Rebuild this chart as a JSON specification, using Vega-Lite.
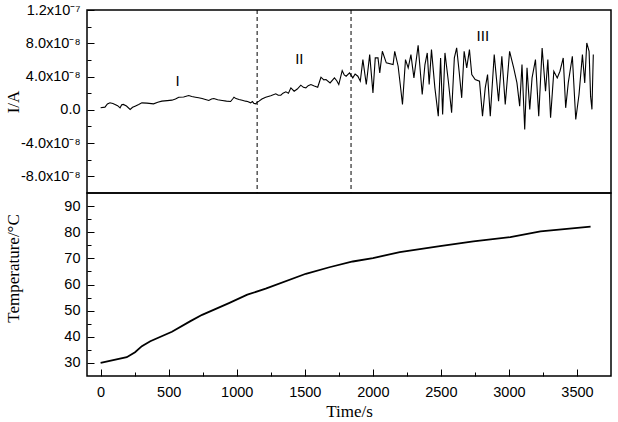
{
  "$schema": "https://vega.github.io/schema/vega-lite/v6.json",
  "padding": {"left": 3, "top": 1, "right": 6, "bottom": 2},
  "spacing": 0,
  "bounds": "flush",
  "background": "white",
  "config": {
    "view": {"stroke": "black", "strokeWidth": 1.5},
    "axis": {
      "domain": false, "grid": false,
      "labelFont": "Liberation Sans", "labelFontSize": 14.5, "labelColor": "black",
      "tickColor": "black", "tickWidth": 1,
      "titleFont": "Liberation Serif", "titleFontWeight": "normal", "titleFontSize": 17, "titleColor": "black"
    }
  },
  "datasets": {
    "current": [
      {"t": 0, "I": 2.4e-9}, {"t": 32, "I": 3.2e-9}, {"t": 50, "I": 7.0e-9}, {"t": 69, "I": 8.4e-9},
      {"t": 90, "I": 7.5e-9}, {"t": 106, "I": 6.5e-9}, {"t": 125, "I": 5.0e-9}, {"t": 143, "I": 2.4e-9},
      {"t": 155, "I": 6.0e-9}, {"t": 167, "I": 6.5e-9}, {"t": 190, "I": 4.5e-9}, {"t": 217, "I": 0.5e-9},
      {"t": 235, "I": 3.0e-9}, {"t": 253, "I": 4.4e-9}, {"t": 280, "I": 6.5e-9}, {"t": 303, "I": 8.4e-9},
      {"t": 340, "I": 8.0e-9}, {"t": 389, "I": 7.2e-9}, {"t": 420, "I": 9.0e-9}, {"t": 450, "I": 1.04e-8},
      {"t": 490, "I": 1.1e-8}, {"t": 524, "I": 1.16e-8}, {"t": 550, "I": 1.3e-8}, {"t": 574, "I": 1.52e-8},
      {"t": 610, "I": 1.55e-8}, {"t": 647, "I": 1.72e-8}, {"t": 670, "I": 1.6e-8}, {"t": 697, "I": 1.52e-8},
      {"t": 720, "I": 1.45e-8}, {"t": 746, "I": 1.36e-8}, {"t": 770, "I": 1.25e-8}, {"t": 795, "I": 1.12e-8},
      {"t": 815, "I": 1.3e-8}, {"t": 832, "I": 1.36e-8}, {"t": 860, "I": 1.2e-8}, {"t": 893, "I": 1.12e-8},
      {"t": 925, "I": 1.05e-8}, {"t": 955, "I": 1.0e-8}, {"t": 970, "I": 1.3e-8}, {"t": 980, "I": 1.52e-8},
      {"t": 995, "I": 1.35e-8}, {"t": 1017, "I": 1.24e-8}, {"t": 1040, "I": 1.15e-8}, {"t": 1065, "I": 1.04e-8},
      {"t": 1080, "I": 1.0e-8}, {"t": 1102, "I": 8.4e-9}, {"t": 1115, "I": 1.0e-8}, {"t": 1125, "I": 8.0e-9},
      {"t": 1139, "I": 7.2e-9}, {"t": 1150, "I": 9.0e-9}, {"t": 1164, "I": 1.04e-8}, {"t": 1185, "I": 1.3e-8},
      {"t": 1213, "I": 1.52e-8}, {"t": 1250, "I": 1.7e-8}, {"t": 1287, "I": 1.92e-8}, {"t": 1305, "I": 1.75e-8},
      {"t": 1324, "I": 1.76e-8}, {"t": 1340, "I": 2.0e-8}, {"t": 1361, "I": 2.16e-8}, {"t": 1380, "I": 2.0e-8},
      {"t": 1398, "I": 2.64e-8}, {"t": 1422, "I": 2.24e-8}, {"t": 1445, "I": 2.5e-8}, {"t": 1471, "I": 2.96e-8},
      {"t": 1490, "I": 2.7e-8}, {"t": 1508, "I": 2.64e-8}, {"t": 1525, "I": 2.9e-8}, {"t": 1545, "I": 3.04e-8},
      {"t": 1570, "I": 2.85e-8}, {"t": 1595, "I": 2.72e-8}, {"t": 1619, "I": 3.92e-8}, {"t": 1640, "I": 3.6e-8},
      {"t": 1656, "I": 3.64e-8}, {"t": 1686, "I": 3.24e-8}, {"t": 1718, "I": 3.84e-8}, {"t": 1735, "I": 3.5e-8},
      {"t": 1750, "I": 3.04e-8}, {"t": 1775, "I": 4.72e-8}, {"t": 1790, "I": 4.2e-8}, {"t": 1804, "I": 4.04e-8},
      {"t": 1829, "I": 4.44e-8}, {"t": 1853, "I": 3.84e-8}, {"t": 1870, "I": 4.3e-8}, {"t": 1890, "I": 4.04e-8},
      {"t": 1908, "I": 3.44e-8}, {"t": 1927, "I": 6.04e-8}, {"t": 1952, "I": 3.04e-8}, {"t": 1977, "I": 6.64e-8},
      {"t": 2001, "I": 2.04e-8}, {"t": 2018, "I": 6.24e-8}, {"t": 2038, "I": 6.24e-8}, {"t": 2051, "I": 4.44e-8},
      {"t": 2070, "I": 7.04e-8}, {"t": 2099, "I": 5.64e-8}, {"t": 2149, "I": 5.44e-8}, {"t": 2161, "I": 7.04e-8},
      {"t": 2186, "I": 5.24e-8}, {"t": 2203, "I": 2.84e-8}, {"t": 2218, "I": 6.5e-9}, {"t": 2240, "I": 6.04e-8},
      {"t": 2260, "I": 5.04e-8}, {"t": 2280, "I": 6.64e-8}, {"t": 2302, "I": 3.84e-8}, {"t": 2333, "I": 7.76e-8},
      {"t": 2363, "I": 1.84e-8}, {"t": 2383, "I": 5.44e-8}, {"t": 2400, "I": 6.84e-8}, {"t": 2414, "I": 3.04e-8},
      {"t": 2431, "I": 7.24e-8}, {"t": 2456, "I": 2.64e-8}, {"t": 2481, "I": -7.6e-9}, {"t": 2498, "I": 6.24e-8},
      {"t": 2513, "I": -5.6e-9}, {"t": 2530, "I": 6.84e-8}, {"t": 2555, "I": 3.44e-8}, {"t": 2579, "I": -3.6e-9},
      {"t": 2599, "I": 6.24e-8}, {"t": 2616, "I": 7.44e-8}, {"t": 2634, "I": 4.64e-8}, {"t": 2653, "I": 1.44e-8},
      {"t": 2671, "I": 7.04e-8}, {"t": 2690, "I": 5.04e-8}, {"t": 2710, "I": 7.24e-8}, {"t": 2727, "I": 4.24e-8},
      {"t": 2752, "I": 3.64e-8}, {"t": 2784, "I": 3.44e-8}, {"t": 2806, "I": -7.6e-9}, {"t": 2826, "I": 2.64e-8},
      {"t": 2843, "I": 4.24e-8}, {"t": 2863, "I": -7.6e-9}, {"t": 2892, "I": 6.64e-8}, {"t": 2924, "I": 1.04e-8},
      {"t": 2948, "I": 6.44e-8}, {"t": 2973, "I": 6.5e-9}, {"t": 3005, "I": 7.04e-8}, {"t": 3035, "I": 5.04e-8},
      {"t": 3059, "I": 3.24e-8}, {"t": 3079, "I": 4.4e-9}, {"t": 3096, "I": 5.44e-8}, {"t": 3116, "I": -2.36e-8},
      {"t": 3133, "I": 5.04e-8}, {"t": 3153, "I": 0.5e-9}, {"t": 3170, "I": 3.84e-8}, {"t": 3195, "I": 6.04e-8},
      {"t": 3219, "I": -7.6e-9}, {"t": 3244, "I": 7.44e-8}, {"t": 3269, "I": 2.24e-8}, {"t": 3286, "I": 6.04e-8},
      {"t": 3306, "I": -9.6e-9}, {"t": 3330, "I": 4.64e-8}, {"t": 3355, "I": 3.84e-8}, {"t": 3375, "I": 4.64e-8},
      {"t": 3399, "I": 6.24e-8}, {"t": 3417, "I": 2.4e-9}, {"t": 3436, "I": 3.24e-8}, {"t": 3466, "I": 6.44e-8},
      {"t": 3491, "I": -1.16e-8}, {"t": 3515, "I": 1.84e-8}, {"t": 3540, "I": 6.64e-8}, {"t": 3557, "I": 3.24e-8},
      {"t": 3572, "I": 8.04e-8}, {"t": 3589, "I": 7.04e-8}, {"t": 3600, "I": 1.64e-8}, {"t": 3610, "I": 0.5e-9},
      {"t": 3620, "I": 6.64e-8}
    ],
    "temp": [
      {"t": 0, "T": 30.0}, {"t": 192, "T": 32.2}, {"t": 253, "T": 34.1}, {"t": 303, "T": 36.4},
      {"t": 365, "T": 38.3}, {"t": 524, "T": 41.9}, {"t": 660, "T": 46.0}, {"t": 746, "T": 48.4},
      {"t": 943, "T": 52.9}, {"t": 1078, "T": 56.1}, {"t": 1213, "T": 58.4}, {"t": 1508, "T": 64.1},
      {"t": 1681, "T": 66.6}, {"t": 1853, "T": 68.8}, {"t": 2001, "T": 70.1}, {"t": 2198, "T": 72.4},
      {"t": 2493, "T": 74.7}, {"t": 2739, "T": 76.5}, {"t": 3010, "T": 78.1}, {"t": 3232, "T": 80.3},
      {"t": 3600, "T": 82.1}
    ],
    "bounds": [{"t": 1150}, {"t": 1840}],
    "phases": [
      {"t": 565, "I": 3.44e-8, "label": "I"},
      {"t": 1460, "I": 6.08e-8, "label": "II"},
      {"t": 2808, "I": 8.84e-8, "label": "III"}
    ]
  },
  "vconcat": [
    {
      "width": 524, "height": 183,
      "layer": [
        {
          "data": {"name": "current"},
          "mark": {"type": "line", "color": "black", "strokeWidth": 1.1},
          "encoding": {
            "x": {"field": "t", "type": "quantitative", "scale": {"domain": [-100, 3750], "nice": false, "zero": false}, "axis": null},
            "y": {"field": "I", "type": "quantitative", "scale": {"domain": [-1e-7, 1.2e-7], "nice": false, "zero": false},
              "axis": {"orient": "left", "values": [-8e-8, -4e-8, 0, 4e-8, 8e-8, 1.2e-7], "tickSize": -7, "labelPadding": 14,
                "labelExpr": "datum.value > 1e-7 ? '1.2x10⁻⁷' : datum.value > 6e-8 ? '8.0x10⁻⁸' : datum.value > 2e-8 ? '4.0x10⁻⁸' : datum.value > -2e-8 ? '0.0' : datum.value > -6e-8 ? '-4.0x10⁻⁸' : '-8.0x10⁻⁸'",
                "title": "I/A", "titleX": -74, "titleY": 91.5, "titleAngle": -90, "titleAlign": "center", "titleBaseline": "middle"}}
          }
        },
        {
          "data": {"name": "phases"},
          "mark": {"type": "text", "font": "Liberation Sans", "fontSize": 15, "fill": "black", "color": "black"},
          "encoding": {
            "x": {"field": "t", "type": "quantitative", "axis": null},
            "y": {"field": "I", "type": "quantitative",
              "axis": {"orient": "left", "values": [-6e-8, -2e-8, 2e-8, 6e-8, 1e-7], "tickSize": -4, "labels": false, "title": null}},
            "text": {"field": "label"}
          }
        },
        {
          "data": {"name": "bounds"},
          "mark": {"type": "rule", "strokeDash": [4, 3], "color": "black", "strokeWidth": 1},
          "encoding": {"x": {"field": "t", "type": "quantitative", "axis": null}}
        }
      ],
      "resolve": {"axis": {"y": "independent"}}
    },
    {
      "width": 524, "height": 183,
      "data": {"name": "temp"},
      "layer": [
        {
          "mark": {"type": "line", "color": "black", "strokeWidth": 1.8},
          "encoding": {
            "x": {"field": "t", "type": "quantitative", "scale": {"domain": [-100, 3750], "nice": false, "zero": false},
              "axis": {"orient": "bottom", "values": [0, 500, 1000, 1500, 2000, 2500, 3000, 3500], "format": "d", "tickSize": -7, "labelPadding": 16,
                "title": "Time/s", "titleY": 35, "titleBaseline": "middle"}},
            "y": {"field": "T", "type": "quantitative", "scale": {"domain": [25, 95], "nice": false, "zero": false},
              "axis": {"orient": "left", "values": [30, 40, 50, 60, 70, 80, 90], "tickSize": -7, "labelPadding": 14,
                "title": "Temperature/°C", "titleX": -74, "titleY": 75, "titleAngle": -90, "titleAlign": "center", "titleBaseline": "middle"}}
          }
        },
        {
          "mark": {"type": "line", "opacity": 0},
          "encoding": {
            "x": {"field": "t", "type": "quantitative",
              "axis": {"orient": "bottom", "values": [250, 750, 1250, 1750, 2250, 2750, 3250], "tickSize": -4, "labels": false, "title": null}},
            "y": {"field": "T", "type": "quantitative",
              "axis": {"orient": "left", "values": [35, 45, 55, 65, 75, 85], "tickSize": -4, "labels": false, "title": null}}
          }
        }
      ],
      "resolve": {"axis": {"x": "independent", "y": "independent"}}
    }
  ]
}
